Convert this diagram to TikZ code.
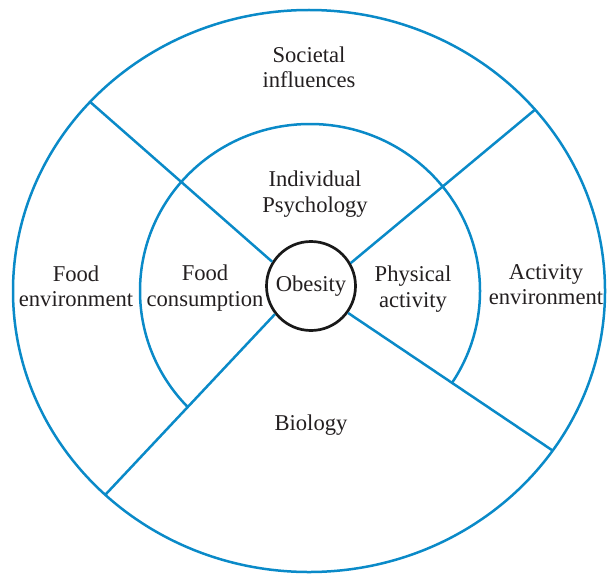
\documentclass[tikz,border=0pt]{standalone}
\usepackage{fontspec}
\setmainfont{Liberation Serif}
\usetikzlibrary{calc}
\definecolor{ringblue}{HTML}{0A8AC8}
\definecolor{inkgray}{HTML}{231F20}
\begin{document}
\begin{tikzpicture}[x=0.5pt,y=0.5pt,
  ring/.style={draw=ringblue,line width=1.25pt},
  txt/.style={text=inkgray,font=\fontsize{11.3}{12.6}\selectfont,align=center,inner sep=0pt},
  core/.style={draw=black!90,line width=1.35pt,circle,minimum size=44.5pt,inner sep=0pt,text=inkgray,font=\fontsize{11.3}{12.6}\selectfont}]
\useasboundingbox (0,0) rectangle (608,574);
\coordinate (oc) at (309,283);
\coordinate (ic) at (310,283);
\coordinate (c1) at (-20,620);
\coordinate (c2) at (640,620);
% outer ring
\draw[ring] (oc) ellipse [x radius=296, y radius=281];
% centre
\node[core] (ob) at (311,288) {\raisebox{-1.5pt}{Obesity}};
% spoke ends on the outer ring
\coordinate (ul) at ($(oc)+(137.7:296 and 281)$);
\coordinate (ur) at ($(oc)+(40.2:296 and 281)$);
\coordinate (ll) at ($(oc)+(226.5:296 and 281)$);
\coordinate (lr) at ($(oc)+(-34.6:296 and 281)$);
% inner ring, open over the Biology sector
\begin{scope}
  \clip (ob.218) -- (ll) -- (ll -| c1) -- (c1) -- (c2) -- (lr -| c2) -- (lr) -- (ob.324) -- cycle;
  \draw[ring] (ic) ellipse [x radius=170, y radius=167];
\end{scope}
% spokes
\draw[ring] (ob.148) -- (ul);
\draw[ring] (ob.30) -- (ur);
\draw[ring] (ob.218) -- (ll);
\draw[ring] (ob.324) -- (lr);
% labels
\node[txt] (soc) at (309,507) {Societal\\influences};
\node[txt] (psy) at (315,380) {Individual\\Psychology};
\node[txt] (fenv) at (76,288) {Food\\environment};
\node[txt] (fcon) at (205,286) {Food\\consumption};
\node[txt] (phys) at (413,285) {Physical\\activity};
\node[txt] (aenv) at (546,289) {Activity\\environment};
\node[txt] (bio) at (311,149) {Biology};
\end{tikzpicture}
\end{document}
